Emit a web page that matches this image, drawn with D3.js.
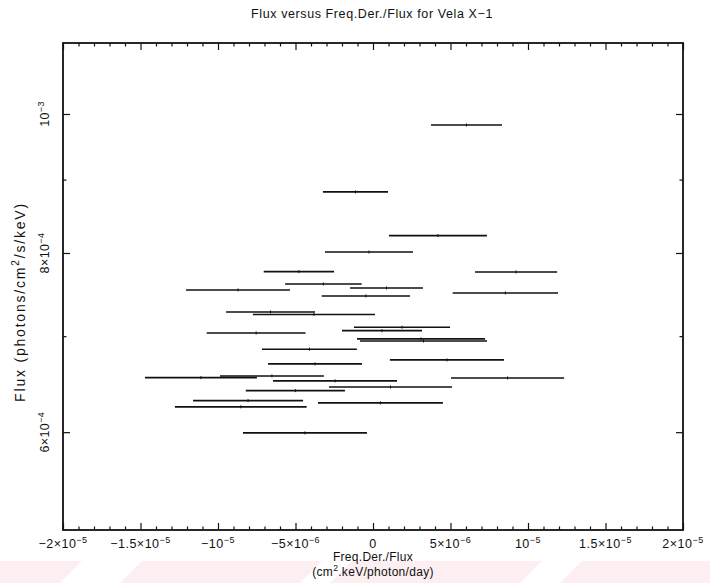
<!DOCTYPE html>
<html>
<head>
<meta charset="utf-8">
<script src="https://cdn.jsdelivr.net/npm/d3@7"></script>
<style>
  html, body { margin: 0; padding: 0; background: #fff; }
  svg text { font-family: "Liberation Sans", Arial, Helvetica, sans-serif; fill: #111; }
</style>
</head>
<body>
<svg id="chart" width="710" height="583"></svg>
<script>
// Frequency-derivative / flux measurements for Vela X-1:
// centre of each interval, half-width of the interval, and the flux.
const freqDerCenter = [
  6.03e-6, -1.13e-6, 4.19e-6, -0.26e-6, -4.78e-6, 9.23e-6, -3.20e-6, -8.71e-6,
  0.87e-6, 8.54e-6, -0.46e-6, -6.61e-6, -3.81e-6, 1.87e-6, 0.58e-6, -7.54e-6,
  3.10e-6, 3.26e-6, -4.10e-6, 4.77e-6, -3.74e-6, -11.10e-6, -6.52e-6, 8.68e-6,
  -2.45e-6, 1.13e-6, -5.01e-6, -8.06e-6, 0.48e-6, -8.53e-6, -4.39e-6
];
const freqDerHalfWidth = [
  2.29e-6, 2.10e-6, 3.16e-6, 2.84e-6, 2.27e-6, 2.65e-6, 2.47e-6, 3.35e-6,
  2.35e-6, 3.40e-6, 2.85e-6, 2.87e-6, 3.94e-6, 3.10e-6, 2.58e-6, 3.19e-6,
  4.13e-6, 4.10e-6, 3.06e-6, 3.68e-6, 3.03e-6, 3.61e-6, 3.35e-6, 3.65e-6,
  4.00e-6, 3.97e-6, 3.20e-6, 3.55e-6, 4.03e-6, 4.25e-6, 4.00e-6
];
const flux = [
  9.825e-4, 8.824e-4, 8.226e-4, 8.013e-4, 7.764e-4, 7.760e-4, 7.612e-4, 7.539e-4,
  7.563e-4, 7.503e-4, 7.467e-4, 7.277e-4, 7.248e-4, 7.101e-4, 7.062e-4, 7.036e-4,
  6.969e-4, 6.946e-4, 6.855e-4, 6.738e-4, 6.695e-4, 6.549e-4, 6.567e-4, 6.546e-4,
  6.515e-4, 6.452e-4, 6.414e-4, 6.312e-4, 6.289e-4, 6.249e-4, 5.993e-4
];

// Axis ranges and tick marks (flux axis is logarithmic)
const xDomain = [-2e-5, 2e-5];
const yDomain = [5.128e-4, 1.1207e-3];
const xMajorTicks = [-2e-5, -1.5e-5, -1e-5, -5e-6, 0, 5e-6, 1e-5, 1.5e-5, 2e-5];
const xTickLabels = ["−2×10^−5", "−1.5×10^−5", "−10^−5", "−5×10^−6", "0",
                     "5×10^−6", "10^−5", "1.5×10^−5", "2×10^−5"];
const xMinorStep = 1e-6;
const yMajorTicks = [6e-4, 8e-4, 1e-3];
const yTickLabels = ["6×10^−4", "8×10^−4", "10^−3"];
const yMinorTicks = [7e-4, 9e-4];

const titleText = "Flux versus Freq.Der./Flux for Vela X−1";
const xTitleLines = ["Freq.Der./Flux", "(cm^2.keV/photon/day)"];
const yTitleText = "Flux (photons/cm^2/s/keV)";

const plot = { left: 63, right: 683, top: 43, bottom: 530 };

const svg = d3.select("#chart");
const x = d3.scaleLinear().domain(xDomain).range([plot.left, plot.right]);
const y = d3.scaleLog().domain(yDomain).range([plot.bottom, plot.top]);

// Writes "a^b" style strings as text with raised exponents.
function writeSup(textSel, str, size) {
  const parts = str.split("^");
  textSel.append("tspan").text(parts[0]);
  if (parts.length > 1) {
    const m = parts[1].match(/^([−\-]?\d+)(.*)$/);
    const exp = m ? m[1] : parts[1];
    const rest = m ? m[2] : "";
    textSel.append("tspan")
      .attr("dy", -size * 0.42)
      .attr("font-size", size * 0.72)
      .text(exp);
    if (rest) {
      textSel.append("tspan")
        .attr("dy", size * 0.42)
        .text(rest);
    }
  }
}

// Watermark bands along the bottom edge
const bands = [[-40, 60], [120, 300], [330, 520], [560, 760]];
svg.append("g").selectAll("path").data(bands).join("path")
  .attr("d", d => `M${d[0] + 22},561 L${d[1] + 22},561 L${d[1]},583 L${d[0]},583 Z`)
  .attr("fill", "#fdeef1");

const minorX = d3.range(xDomain[0], xDomain[1] + xMinorStep / 2, xMinorStep)
  .filter(v => !xMajorTicks.some(t => Math.abs(t - v) < 1e-9));

const axisStroke = "#111";

function styleAxis(g) {
  g.select(".domain").remove();
  g.selectAll(".tick line").attr("stroke", axisStroke).attr("stroke-width", 1.2);
  g.selectAll(".tick text").remove();
}

// Ticks drawn inward on all four sides
function ticksX(sel, pos, axisFn) {
  sel.append("g").attr("transform", `translate(0,${pos})`)
    .call(axisFn(x).tickValues(xMajorTicks).tickSize(-7).tickFormat(""))
    .call(styleAxis);
  sel.append("g").attr("transform", `translate(0,${pos})`)
    .call(axisFn(x).tickValues(minorX).tickSize(-3.5).tickFormat(""))
    .call(styleAxis);
}
function ticksY(sel, pos, axisFn) {
  sel.append("g").attr("transform", `translate(${pos},0)`)
    .call(axisFn(y).tickValues(yMajorTicks).tickSize(-7).tickFormat(""))
    .call(styleAxis);
  sel.append("g").attr("transform", `translate(${pos},0)`)
    .call(axisFn(y).tickValues(yMinorTicks).tickSize(-3.5).tickFormat(""))
    .call(styleAxis);
}
ticksX(svg, plot.bottom, d3.axisBottom);
ticksX(svg, plot.top, d3.axisTop);
ticksY(svg, plot.left, d3.axisLeft);
ticksY(svg, plot.right, d3.axisRight);

// Frame
svg.append("rect")
  .attr("x", plot.left).attr("y", plot.top)
  .attr("width", plot.right - plot.left).attr("height", plot.bottom - plot.top)
  .attr("fill", "none").attr("stroke", axisStroke).attr("stroke-width", 1.8);

// Tick labels
const fs = 12.5;
xMajorTicks.forEach((v, i) => {
  const t = svg.append("text")
    .attr("x", x(v)).attr("y", plot.bottom + 18)
    .attr("text-anchor", "middle").attr("font-size", fs)
    .attr("letter-spacing", 0.5);
  writeSup(t, xTickLabels[i], fs);
});
yMajorTicks.forEach((v, i) => {
  const t = svg.append("text")
    .attr("transform", `translate(49,${y(v)}) rotate(-90)`)
    .attr("text-anchor", "middle").attr("font-size", fs)
    .attr("letter-spacing", 0.4);
  writeSup(t, yTickLabels[i], fs);
});

// Titles
svg.append("text")
  .attr("x", 372).attr("y", 18)
  .attr("text-anchor", "middle").attr("font-size", 12.5)
  .attr("letter-spacing", 0.6)
  .text(titleText);

xTitleLines.forEach((line, i) => {
  const t = svg.append("text")
    .attr("x", (plot.left + plot.right) / 2).attr("y", 561 + i * 15)
    .attr("text-anchor", "middle").attr("font-size", 12)
    .attr("letter-spacing", 0.3);
  writeSup(t, line, 12);
});

const yt = svg.append("text")
  .attr("transform", `translate(25,302) rotate(-90)`)
  .attr("text-anchor", "middle").attr("font-size", 14)
  .attr("letter-spacing", 1.8);
writeSup(yt, yTitleText, 14);

// Horizontal interval bars
const rows = flux.map((f, i) => ({ c: freqDerCenter[i], h: freqDerHalfWidth[i], f }));
const bars = svg.append("g").attr("stroke", "#111").attr("fill", "none");
bars.selectAll("line.bar").data(rows).join("line")
  .attr("class", "bar")
  .attr("x1", d => x(d.c - d.h)).attr("x2", d => x(d.c + d.h))
  .attr("y1", d => y(d.f)).attr("y2", d => y(d.f))
  .attr("stroke-width", 1.6);
bars.selectAll("line.mid").data(rows).join("line")
  .attr("class", "mid")
  .attr("x1", d => x(d.c)).attr("x2", d => x(d.c))
  .attr("y1", d => y(d.f) - 1.5).attr("y2", d => y(d.f) + 1.5)
  .attr("stroke-width", 1);
</script>
</body>
</html>
